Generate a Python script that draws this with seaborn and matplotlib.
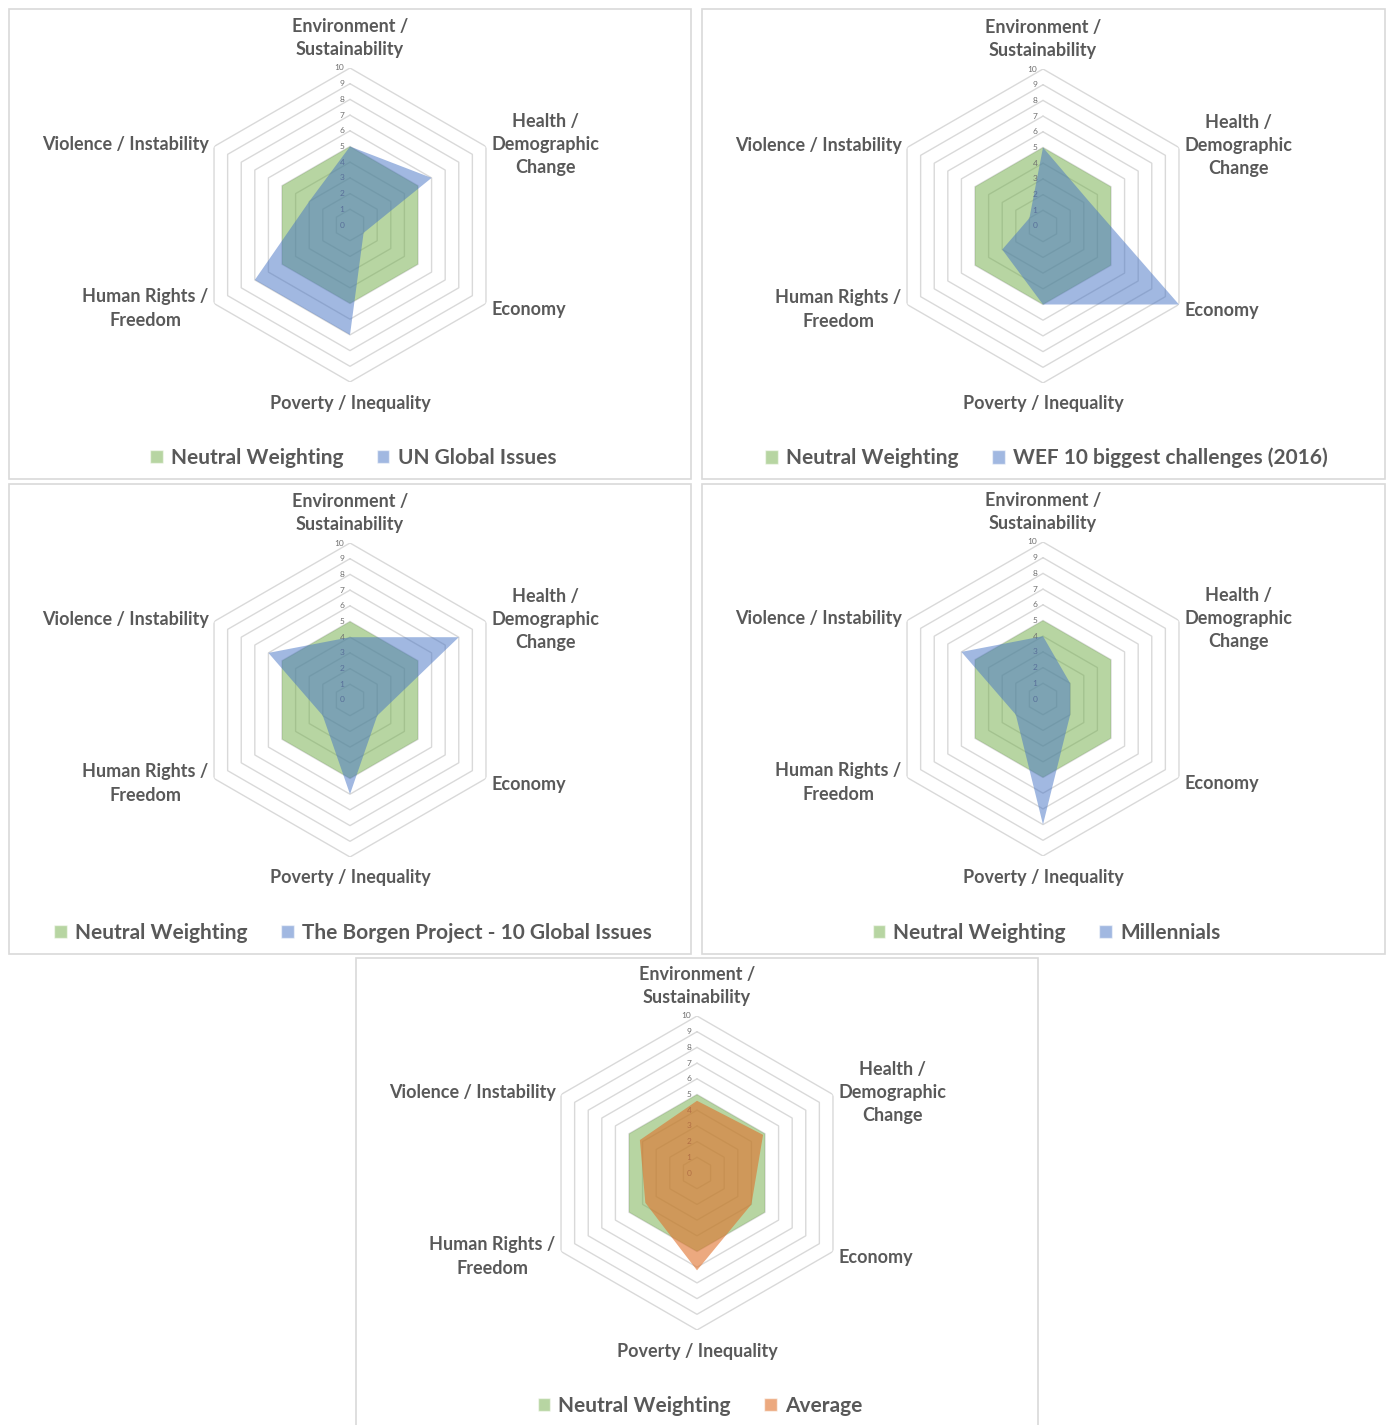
import numpy as np
import matplotlib
matplotlib.use("Agg")
import matplotlib.pyplot as plt
import seaborn as sns
from matplotlib.patches import Rectangle, Patch
from matplotlib.transforms import offset_copy

sns.set_theme(style="white")
plt.rcParams['font.family'] = ['Lato', 'DejaVu Sans']

# Datos
categories = ['Environment /\nSustainability', 'Health /\nDemographic\nChange', 'Economy',
              'Poverty / Inequality', 'Human Rights /\nFreedom', 'Violence / Instability']
neutral = [5, 5, 5, 5, 5, 5]
un_global = [5, 6, 1, 7, 7, 3]
wef_2016 = [5, 3.3, 10, 5, 3, 1]
borgen = [4, 8, 2, 6, 2, 6]
millennials = [4, 2, 2, 8, 2, 6]
average = [4.6, 4.86, 4.0, 6.2, 3.8, 4.2]
r_ticks = list(range(0, 11))

series_names = ['UN Global Issues', 'WEF 10 biggest challenges (2016)',
                'The Borgen Project - 10 Global Issues', 'Millennials', 'Average']
series_values = [un_global, wef_2016, borgen, millennials, average]

GREEN = '#70AD47'
BLUE = '#4472C4'
ORANGE = '#E0702A'
TXT = '#595959'
GRID = '#d9d9d9'

W, H = 1391, 1425
fig = plt.figure(figsize=(W / 100, H / 100), dpi=100)

# (caja del panel en px, centro del hexágono en px)
panels = [((9, 9, 691, 479), (350, 225)),
          ((702, 9, 1385, 479), (1043, 226)),
          ((9, 484, 691, 954), (350, 700)),
          ((702, 484, 1385, 954), (1043, 699)),
          ((356, 958, 1038, 1430), (697, 1173))]
R = 157

angles = np.linspace(0, 2 * np.pi, len(categories), endpoint=False)
closed = np.append(angles, angles[0])

for i, ((x0, y0, x1, y1), (cx, cy)) in enumerate(panels):
    fig.add_artist(Rectangle((x0 / W, 1 - y1 / H), (x1 - x0) / W, (y1 - y0) / H,
                             transform=fig.transFigure, fill=False,
                             edgecolor=GRID, linewidth=1.2))
    ax = fig.add_axes([(cx - R) / W, 1 - (cy + R) / H, 2 * R / W, 2 * R / H],
                      projection='polar')
    ax.set_theta_zero_location('N')
    ax.set_theta_direction(-1)
    ax.set_ylim(0, 10)
    ax.grid(False)
    ax.spines['polar'].set_visible(False)
    ax.set_xticks([])
    ax.set_yticks([])
    ax.patch.set_alpha(0)

    # anillos hexagonales
    for r in r_ticks[1:]:
        ax.plot(closed, [r] * len(closed), color=GRID, lw=1.0, zorder=1)
    lab_tr = offset_copy(ax.transData, fig=fig, x=-4, y=0, units='points')
    for r in r_ticks:
        ax.text(0, r, str(r), transform=lab_tr, ha='right', va='center',
                fontsize=6, color='#6f6f6f')

    vals = series_values[i]
    color2 = ORANGE if i == 4 else BLUE
    alpha2 = 0.6 if i == 4 else 0.5
    ax.fill(closed, neutral + neutral[:1], color=GREEN, alpha=0.5, lw=0, zorder=2)
    ax.fill(closed, vals + vals[:1], color=color2, alpha=alpha2, lw=0, zorder=3)

    # etiquetas de categorías
    offs = [(0, 7, 'center', 'bottom'), (4, 1.5, 'left', 'center'), (4, -4, 'left', 'center'),
            (0, -9, 'center', 'top'), (-4, -3.5, 'right', 'center'), (-4, 1.5, 'right', 'center')]
    for a, cat, (dx, dy, ha, va) in zip(angles, categories, offs):
        tr = offset_copy(ax.transData, fig=fig, x=dx, y=dy, units='points')
        ax.text(a, 10, cat, transform=tr, ha=ha, va=va, multialignment='center',
                fontsize=13, fontweight='bold', color=TXT, linespacing=1.45)

    handles = [Patch(facecolor=GREEN, alpha=0.5, label='Neutral Weighting'),
               Patch(facecolor=color2, alpha=alpha2, label=series_names[i])]
    leg_y = 1 - (y1 - 21 if i < 4 else 1406) / H
    fig.legend(handles=handles, loc='center', bbox_to_anchor=((x0 + x1) / 2 / W + 3 / W, leg_y),
               ncol=2, frameon=False, handlelength=0.6, handleheight=0.6,
               handletextpad=0.4, columnspacing=1.6,
               prop={'weight': 'bold', 'size': 15}, labelcolor=TXT)

fig.savefig('out.png', dpi=100, facecolor='white')
